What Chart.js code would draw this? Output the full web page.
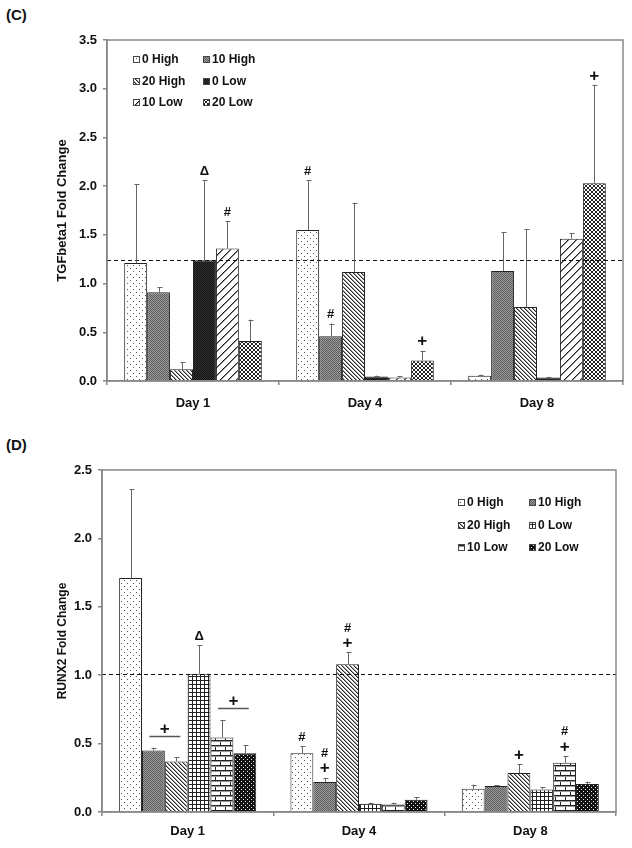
<!DOCTYPE html>
<html><head><meta charset="utf-8">
<script src="https://cdn.jsdelivr.net/npm/chart.js@4.4.1/dist/chart.umd.min.js"></script>
<style>
body{margin:0;background:#fff;width:632px;height:848px;overflow:hidden;position:relative;font-family:"Liberation Sans",Arial,sans-serif;}
.panel{position:absolute;left:6px;font-weight:bold;font-size:15px;line-height:17px;color:#111;}
canvas{position:absolute;left:0;}
</style></head><body>
<div class="panel" style="top:6px">(C)</div>
<div class="panel" style="top:436px">(D)</div>
<canvas id="cC" width="632" height="420" style="top:0"></canvas>
<canvas id="cD" width="632" height="428" style="top:420px"></canvas>
<script>
// ---------------- DATA ----------------
const categories = ['Day 1', 'Day 4', 'Day 8'];
const seriesNames = ['0 High', '10 High', '20 High', '0 Low', '10 Low', '20 Low'];

// (C) TGFbeta1 fold change: means
const tgf0High  = [1.21, 1.55, 0.055];
const tgf10High = [0.91, 0.46, 1.13];
const tgf20High = [0.12, 1.12, 0.76];
const tgf0Low   = [1.24, 0.045, 0.035];
const tgf10Low  = [1.36, 0.035, 1.46];
const tgf20Low  = [0.41, 0.21, 2.03];
// (C) upper error bars
const tgfErr0High  = [0.81, 0.51, 0.01];
const tgfErr10High = [0.05, 0.13, 0.40];
const tgfErr20High = [0.07, 0.71, 0.80];
const tgfErr0Low   = [0.82, 0.01, 0.008];
const tgfErr10Low  = [0.28, 0.015, 0.06];
const tgfErr20Low  = [0.22, 0.10, 1.01];
// (C) significance marks (bottom to top)
const tgfMarks0High  = [[], ['#'], []];
const tgfMarks10High = [[], ['#'], []];
const tgfMarks20High = [[], [], []];
const tgfMarks0Low   = [['\u0394'], [], []];
const tgfMarks10Low  = [['#'], [], []];
const tgfMarks20Low  = [[], ['+'], ['+']];
const tgfRefLine = 1.245;
const tgfTicks = [0, 0.5, 1.0, 1.5, 2.0, 2.5, 3.0, 3.5];
const tgfTitle = 'TGFbeta1 Fold Change';

// (D) RUNX2 fold change: means
const runx0High  = [1.71, 0.43, 0.17];
const runx10High = [0.45, 0.22, 0.19];
const runx20High = [0.37, 1.08, 0.285];
const runx0Low   = [1.01, 0.06, 0.165];
const runx10Low  = [0.545, 0.055, 0.36];
const runx20Low  = [0.43, 0.09, 0.205];
// (D) upper error bars
const runxErr0High  = [0.65, 0.05, 0.03];
const runxErr10High = [0.02, 0.03, 0.005];
const runxErr20High = [0.03, 0.09, 0.065];
const runxErr0Low   = [0.21, 0.008, 0.018];
const runxErr10Low  = [0.125, 0.013, 0.05];
const runxErr20Low  = [0.06, 0.017, 0.017];
// (D) significance marks (bottom to top)
const runxMarks0High  = [[], ['#'], []];
const runxMarks10High = [[], ['+', '#'], []];
const runxMarks20High = [[], ['+', '#'], ['+']];
const runxMarks0Low   = [['\u0394'], [], []];
const runxMarks10Low  = [[], [], ['+', '#']];
const runxMarks20Low  = [[], [], []];
// (D) group brackets: category index, first & last series index, label
const runxBrackets = [
  {cat: 0, from: 1, to: 2, label: '+'},
  {cat: 0, from: 4, to: 5, label: '+'}
];
const runxRefLine = 1.01;
const runxTicks = [0, 0.5, 1.0, 1.5, 2.0, 2.5];
const runxTitle = 'RUNX2 Fold Change';

// ---------------- STYLE ----------------
const FONT = "'Liberation Sans', Arial, sans-serif";
function pat(w, h, draw) {
  const c = document.createElement('canvas'); c.width = w; c.height = h;
  const x = c.getContext('2d'); draw(x, w, h);
  return x.createPattern(c, 'repeat');
}
function px(x, a, b, col) { x.fillStyle = col; x.fillRect(a, b, 1, 1); }
const pDots = pat(6, 6, (x) => { x.fillStyle = '#fff'; x.fillRect(0,0,6,6); px(x,1,1,'#555'); px(x,4,4,'#555'); });
const pGray = pat(2, 2, (x) => { x.fillStyle = '#5e5e5e'; x.fillRect(0,0,2,2); px(x,1,0,'#9a9a9a'); px(x,0,1,'#9a9a9a'); });
const pBack = pat(4, 4, (x) => { x.fillStyle = '#fff'; x.fillRect(0,0,4,4); for (let i=0;i<4;i++){ px(x,i,i,'#2a2a2a'); px(x,(i+1)%4,i,'#999'); } });
const pBlack = pat(2, 2, (x) => { x.fillStyle = '#111'; x.fillRect(0,0,2,2); px(x,1,0,'#333'); px(x,0,1,'#333'); });
const pWide = pat(8, 8, (x) => { x.fillStyle = '#fff'; x.fillRect(0,0,8,8); for (let i=0;i<8;i++){ px(x,7-i,i,'#222'); px(x,(8-i)%8,i,'#888'); } });
const pCheck = pat(4, 4, (x) => { x.fillStyle = '#fff'; x.fillRect(0,0,4,4); for (let i=0;i<4;i++){ px(x,i,i,'#222'); px(x,3-i,i,'#222'); } });
const pGrid = pat(4, 4, (x) => { x.fillStyle = '#fff'; x.fillRect(0,0,4,4); x.fillStyle = '#222'; x.fillRect(0,0,4,1); x.fillRect(0,0,1,4); });
const pBrick = pat(10, 10, (x) => { x.fillStyle = '#fff'; x.fillRect(0,0,10,10); x.fillStyle = '#222';
  x.fillRect(0,0,10,1); x.fillRect(0,5,10,1); x.fillRect(0,1,1,4); x.fillRect(5,6,1,4);
  x.fillStyle = '#999'; x.fillRect(0,1,10,1); x.fillRect(0,6,10,1); });
const pBlackDots = pat(4, 4, (x) => { x.fillStyle = '#111'; x.fillRect(0,0,4,4); px(x,1,1,'#eee'); px(x,3,3,'#eee'); });

const patternsC = [pDots, pGray, pBack, pBlack, pWide, pCheck];
const patternsD = [pDots, pGray, pBack, pGrid, pBrick, pBlackDots];

function markFont(t) { return (t === '+' ? 'bold 17px ' : 'bold 13px ') + FONT; }

function makeDecor(cfg) {
  return {
    id: 'decor' + cfg.id,
    afterDatasetsDraw(chart) {
      const ctx = chart.ctx, ys = chart.scales.y, ca = chart.chartArea;
      ctx.save();
      // reference dashed line
      ctx.strokeStyle = '#111'; ctx.lineWidth = 1; ctx.setLineDash([4, 3]);
      const yr = Math.round(ys.getPixelForValue(cfg.refLine)) + 0.5;
      ctx.beginPath(); ctx.moveTo(ca.left, yr); ctx.lineTo(ca.right, yr); ctx.stroke();
      ctx.setLineDash([]);
      ctx.textAlign = 'center'; ctx.textBaseline = 'middle';
      chart.data.datasets.forEach((ds, di) => {
        const meta = chart.getDatasetMeta(di);
        meta.data.forEach((bar, i) => {
          const top = ys.getPixelForValue(ds.data[i] + cfg.errors[di][i]);
          const x = Math.round(bar.x) + 0.5;
          ctx.strokeStyle = '#666'; ctx.lineWidth = 1;
          ctx.beginPath(); ctx.moveTo(x, bar.y); ctx.lineTo(x, top);
          ctx.moveTo(x - 2, Math.round(top) + 0.5); ctx.lineTo(x + 3, Math.round(top) + 0.5); ctx.stroke();
          ctx.fillStyle = '#111';
          (cfg.marks[di][i] || []).forEach((t, k) => { ctx.font = markFont(t); ctx.fillText(t, bar.x, top - 9 - k * 15); });
        });
      });
      (cfg.brackets || []).forEach(b => {
        const b1 = chart.getDatasetMeta(b.from).data[b.cat], b2 = chart.getDatasetMeta(b.to).data[b.cat];
        let m = 0;
        for (let s = b.from; s <= b.to; s++) m = Math.max(m, chart.data.datasets[s].data[b.cat] + cfg.errors[s][b.cat]);
        const yl = Math.round(ys.getPixelForValue(m)) - 12 + 0.5;
        ctx.strokeStyle = '#555'; ctx.lineWidth = 1.5;
        ctx.beginPath(); ctx.moveTo(b1.x - 4, yl); ctx.lineTo(b2.x + 4, yl); ctx.stroke();
        ctx.fillStyle = '#111'; ctx.font = markFont(b.label);
        ctx.fillText(b.label, (b1.x + b2.x) / 2, yl - 7);
      });
      // frame
      ctx.strokeStyle = '#888'; ctx.lineWidth = 1.5;
      ctx.strokeRect(ca.left, ca.top, ca.width, ca.height);
      // legend (3 rows x 2 columns)
      ctx.font = 'bold 12px ' + FONT; ctx.textAlign = 'left'; ctx.textBaseline = 'middle';
      chart.data.datasets.forEach((ds, di) => {
        const col = di % 2, row = Math.floor(di / 2);
        const bx = ca.left + cfg.legX + col * cfg.legColW;
        const by = Math.round(ca.top + cfg.legY + row * cfg.legRowH);
        ctx.fillStyle = ds.backgroundColor; ctx.fillRect(bx, by - 3, 6, 6);
        ctx.strokeStyle = '#444'; ctx.lineWidth = 1; ctx.strokeRect(bx + 0.5, by - 3 + 0.5, 6, 6);
        ctx.fillStyle = '#111'; ctx.fillText(ds.label, bx + 9, by + 0.5);
      });
      ctx.restore();
    }
  };
}

function makeChart(cfg) {
  const datasets = seriesNames.map((n, i) => ({
    label: n, data: cfg.data[i], backgroundColor: cfg.patterns[i],
    borderColor: '#222', borderWidth: 1, categoryPercentage: 0.8, barPercentage: 1.0
  }));
  return new Chart(document.getElementById(cfg.canvas), {
    type: 'bar',
    data: { labels: categories, datasets },
    options: {
      responsive: false, animation: false, devicePixelRatio: 1,
      layout: { padding: { left: 0, right: cfg.padR, top: cfg.padT, bottom: 0 } },
      plugins: { legend: { display: false }, tooltip: { enabled: false } },
      scales: {
        x: {
          offset: true,
          grid: { display: true, drawOnChartArea: false, drawTicks: true, tickLength: 4, color: '#888', lineWidth: 1.5 },
          border: { display: true, color: '#888', width: 1.5 },
          ticks: { font: { family: FONT, size: 13, weight: 'bold' }, color: '#111', padding: cfg.xPad },
          afterFit(s) { s.height = cfg.xH; }
        },
        y: {
          min: 0, max: cfg.ticks[cfg.ticks.length - 1],
          afterBuildTicks(s) { s.ticks = cfg.ticks.map(v => ({ value: v })); },
          ticks: { callback: v => Number(v).toFixed(1), font: { family: FONT, size: 13, weight: 'bold' }, color: '#111', padding: 6 },
          grid: { drawOnChartArea: false, drawTicks: true, tickLength: 4, color: '#888', lineWidth: 1.5 },
          border: { display: true, color: '#888', width: 1.5 },
          title: { display: true, text: cfg.title, font: { family: FONT, size: cfg.titleSize, weight: 'bold' }, color: '#111', padding: { top: cfg.titlePad, bottom: 0 } },
          afterFit(s) { s.width = cfg.yW; }
        }
      }
    },
    plugins: [makeDecor(cfg)]
  });
}

makeChart({
  id: 'C', canvas: 'cC', title: tgfTitle, ticks: tgfTicks, refLine: tgfRefLine,
  data: [tgf0High, tgf10High, tgf20High, tgf0Low, tgf10Low, tgf20Low],
  errors: [tgfErr0High, tgfErr10High, tgfErr20High, tgfErr0Low, tgfErr10Low, tgfErr20Low],
  marks: [tgfMarks0High, tgfMarks10High, tgfMarks20High, tgfMarks0Low, tgfMarks10Low, tgfMarks20Low],
  patterns: patternsC,
  padR: 9, padT: 40, xH: 39, xPad: 11, yW: 107, titlePad: 55, titleSize: 13,
  legX: 26, legY: 19, legColW: 70, legRowH: 21.5
});
makeChart({
  id: 'D', canvas: 'cD', title: runxTitle, ticks: runxTicks, refLine: runxRefLine,
  data: [runx0High, runx10High, runx20High, runx0Low, runx10Low, runx20Low],
  errors: [runxErr0High, runxErr10High, runxErr20High, runxErr0Low, runxErr10Low, runxErr20Low],
  marks: [runxMarks0High, runxMarks10High, runxMarks20High, runxMarks0Low, runxMarks10Low, runxMarks20Low],
  brackets: runxBrackets,
  patterns: patternsD,
  padR: 16, padT: 50, xH: 36, xPad: 8, yW: 102, titlePad: 55, titleSize: 12,
  legX: 356, legY: 32, legColW: 71, legRowH: 22.5
});
</script>
</body></html>
